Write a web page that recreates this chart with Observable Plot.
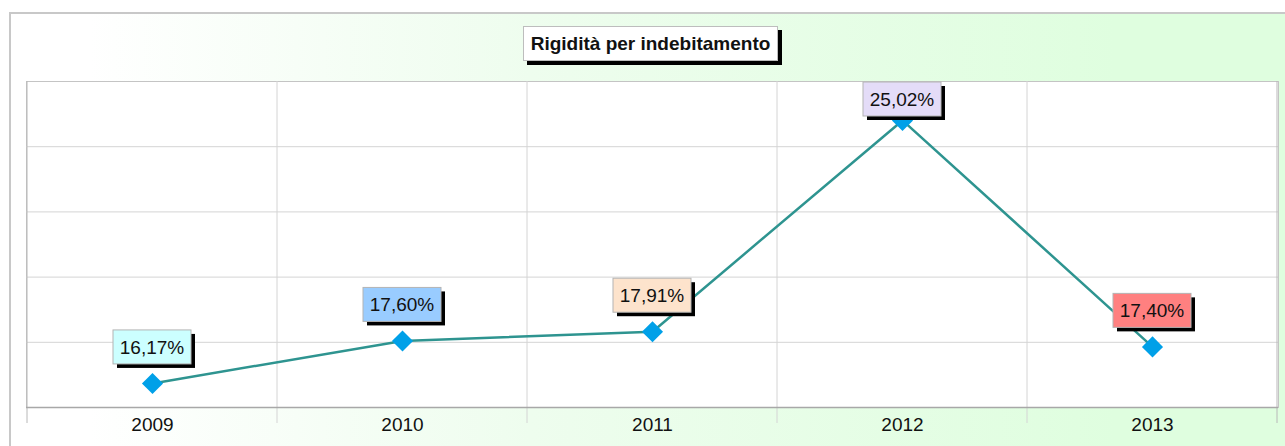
<!DOCTYPE html>
<html>
<head>
<meta charset="utf-8">
<script src="https://cdn.jsdelivr.net/npm/d3@7"></script>
<script src="https://cdn.jsdelivr.net/npm/@observablehq/plot@0.6"></script>
<style>
  html, body { margin: 0; padding: 0; width: 1285px; height: 446px; overflow: hidden; background: #ffffff; }
  #wrap { position: relative; width: 1285px; height: 446px; font-family: "Liberation Sans", Arial, sans-serif; }
  #bg { position: absolute; left: 9px; top: 12px; width: 1300px; height: 460px;
        border-left: 2px solid #c8c8c8; border-top: 2px solid #c8c8c8;
        background: linear-gradient(90deg, #ffffff 6%, #eefdee 40%, #dffedf 85%); }
  #chart { position: absolute; left: 0; top: 0; }
  #title { position: absolute; left: 523px; top: 26px; width: 253px; height: 33px;
           border: 1px solid #bdbdbd; background: #ffffff; box-shadow: 4px 4px 0 #000;
           font-weight: bold; font-size: 19px; line-height: 33px; text-align: center; color: #111; }
</style>
</head>
<body>
<div id="wrap">
  <div id="bg"></div>
  <div id="chart"></div>
  <div id="title">Rigidità per indebitamento</div>
</div>
<script>
const years = ["2009", "2010", "2011", "2012", "2013"];
const values = [16.17, 17.60, 17.91, 25.02, 17.40];
const labels = ["16,17%", "17,60%", "17,91%", "25,02%", "17,40%"];
const labelColors = ["#ccffff", "#99ccff", "#fde3cc", "#e4dcf8", "#ff8080"];
const yDomain = [15.36, 26.33];

const data = years.map((year, i) => ({year, value: values[i], label: labels[i], color: labelColors[i]}));
const gridTicks = d3.range(6).map(i => yDomain[0] + i * (yDomain[1] - yDomain[0]) / 5);

function categoryGrid(index, scales, values, dimensions) {
  const x = scales.x;
  const step = x(years[1]) - x(years[0]);
  const g = d3.create("svg:g");
  const top = dimensions.marginTop;
  const bottom = dimensions.height - dimensions.marginBottom;
  const xs = years.map(v => x(v)).concat([x(years[years.length - 1]) + step]);
  xs.forEach((px, i) => {
    g.append("line")
      .attr("x1", px).attr("x2", px)
      .attr("y1", top).attr("y2", bottom + 16)
      .attr("stroke", i === 0 || i === xs.length - 1 ? "#b8b8b8" : "#d4d4d4")
      .attr("stroke-width", 1);
  });
  return g.node();
}

function labelBoxes(index, scales, values, dimensions) {
  const x = scales.x, y = scales.y;
  const step = x(years[1]) - x(years[0]);
  const g = d3.create("svg:g");
  const w = 78, h = 34;
  data.forEach(d => {
    const cx = x(d.year) + step / 2;
    const cy = Math.max(y(d.value) - 36, dimensions.marginTop + h / 2 + 1);
    g.append("rect").attr("x", cx - w / 2 + 4).attr("y", cy - h / 2 + 4)
      .attr("width", w).attr("height", h).attr("fill", "#000");
    g.append("rect").attr("x", cx - w / 2).attr("y", cy - h / 2)
      .attr("width", w).attr("height", h).attr("fill", d.color)
      .attr("stroke", "#b4b4b4").attr("stroke-width", 1);
    g.append("text").attr("x", cx).attr("y", cy).attr("dy", "0.36em")
      .attr("text-anchor", "middle").attr("fill", "#111")
      .attr("font-size", 19).text(d.label);
  });
  return g.node();
}

const plot = Plot.plot({
  width: 1285,
  height: 446,
  marginLeft: 26,
  marginRight: 7,
  marginTop: 81,
  marginBottom: 39,
  style: {background: "transparent", fontFamily: "Liberation Sans, Arial, sans-serif", fontSize: "19px", color: "#111"},
  x: {type: "band", domain: years, padding: 0, axis: null, label: null},
  y: {domain: yDomain, axis: null},
  marks: [
    Plot.frame({fill: "white", stroke: "#c4c4c4"}),
    Plot.ruleY(gridTicks.slice(1, 5), {stroke: "#d4d4d4", strokeWidth: 1}),
    categoryGrid,
    Plot.ruleY([yDomain[0]], {stroke: "#a8a8a8", strokeWidth: 1.5}),
    Plot.axisX({tickSize: 0, tickPadding: 10, fontSize: 19, fill: "#111", label: null}),
    Plot.line(data, {x: "year", y: "value", stroke: "#2e9490", strokeWidth: 2.5}),
    Plot.dot(data, {x: "year", y: "value", symbol: "diamond2", r: 9.5, fill: "#00a0e8", stroke: "none"}),
    labelBoxes
  ]
});
document.getElementById("chart").appendChild(plot);
</script>
</body>
</html>
